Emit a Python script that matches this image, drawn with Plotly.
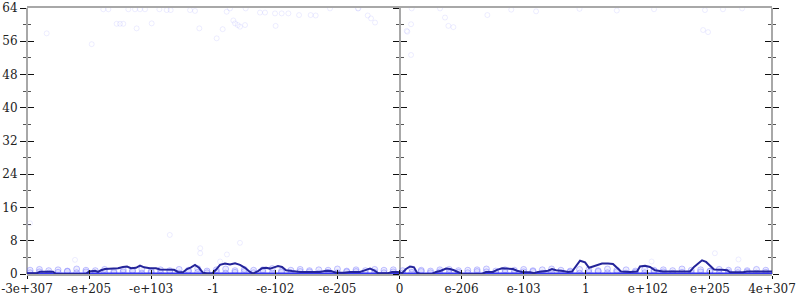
import plotly.graph_objects as go

tick_labels = ["-3e+307", "-e+205", "-e+103", "-1", "-e-102", "-e-205", "0",
               "e-206", "e-103", "1", "e+102", "e+205", "4e+307"]
tick_pos = list(range(13))

line_x = [0, 0.161, 0.209, 0.419, 0.467, 0.950, 0.999, 1.095, 1.144, 1.192, 1.256, 1.369,
          1.466, 1.546, 1.611, 1.675, 1.756, 1.820, 1.885, 1.981, 2.078, 2.142, 2.271, 2.368,
          2.432, 2.513, 2.577, 2.642, 2.706, 2.771, 2.835, 2.899, 2.980, 3.044, 3.109, 3.189,
          3.270, 3.351, 3.431, 3.512, 3.592, 3.640, 3.721, 3.785, 3.850, 3.914, 3.979, 4.043,
          4.108, 4.172, 4.269, 4.398, 4.559, 4.720, 4.816, 4.897, 4.977, 5.106, 5.203, 5.364,
          5.461, 5.525, 5.590, 5.654, 5.815, 5.880, 5.976, 6.041, 6.105, 6.169, 6.234, 6.282,
          6.331, 6.524, 6.588, 6.669, 6.749, 6.814, 6.878, 6.943, 7.007, 7.329, 7.394, 7.506,
          7.571, 7.652, 7.748, 7.829, 7.893, 7.974, 8.103, 8.167, 8.231, 8.312, 8.393, 8.457,
          8.521, 8.634, 8.715, 8.779, 8.843, 8.908, 8.989, 9.053, 9.117, 9.182, 9.262, 9.359,
          9.439, 9.504, 9.568, 9.713, 9.826, 9.874, 9.955, 10.035, 10.116, 10.245, 10.438,
          10.680, 10.744, 10.809, 10.873, 10.938, 11.003, 11.067, 11.196, 11.276, 11.325,
          11.534, 11.598, 11.759, 12]
line_y = [0.2, 0.2, 0.55, 0.55, 0, 0, 0.6, 0.75, 0.5, 0.9, 1.2, 1.3,
          1.4, 1.7, 1.8, 1.4, 1.5, 2.0, 1.6, 1.4, 1.4, 1.1, 1.0, 1.0,
          0.5, 0.4, 1.2, 1.6, 2.2, 1.5, 0.3, 0.1, 0.1, 1.0, 2.2, 2.5,
          2.3, 2.6, 2.2, 1.5, 0.5, 0.1, 0.7, 1.4, 1.5, 1.3, 1.6, 1.9,
          1.7, 0.9, 0.7, 0.5, 0.5, 0.5, 0.8, 0.7, 0.3, 0.3, 0.5, 0.5,
          1.0, 1.3, 0.9, 0.2, 0.2, 0.5, 0.5, 0.2, 1.2, 1.8, 1.6, 0.3,
          0, 0, 0.5, 0.8, 1.3, 1.2, 0.9, 0.4, 0, 0, 0.5, 0.5,
          1.0, 1.4, 1.3, 1.2, 0.8, 0.5, 0.4, 0.2, 0.5, 0.6, 0.8, 1.2,
          0.9, 0.7, 0.5, 0.6, 2.0, 3.2, 2.8, 1.5, 1.8, 2.2, 2.5, 2.5,
          2.4, 1.5, 0.6, 0.5, 0.6, 1.8, 2.0, 1.7, 0.9, 0.6, 0.6,
          0.6, 1.7, 2.6, 3.3, 2.9, 2.0, 1.1, 1.0, 0.9, 0.4,
          0.4, 0.6, 0.6, 0.6]

# scattered sample points (faint)
pts_x = [1.229, 1.310, 1.632, 1.740, 1.820, 1.901, 2.132, 2.250, 2.314, 2.626, 2.706, 3.216,
         3.270, 3.522, 3.753, 3.834, 3.995, 4.102, 4.210, 4.382, 4.569, 4.650, 4.881, 5.337,
         5.488, 5.541, 5.606, 6.196, 6.186, 6.116, 6.653, 6.733, 6.787, 6.868, 7.415, 1.444,
         1.498, 1.551, 1.766, 2.008, 2.776, 3.055, 3.152, 3.324, 3.351, 3.394, 3.431, 3.512,
         4.005, 0.317, 1.042, 5.330, 6.126, 6.186, 10.92, 11.21, 11.52, 10.89, 10.97, 7.8,
         8.2, 8.9, 9.5, 10.1, 0.048, 2.30, 0.773, 2.79, 2.79, 3.43, 3.22, 3.11, 11.08, 11.46,
         10.06]
pts_y = [63.7, 63.7, 63.7, 63.7, 63.7, 63.7, 63.7, 63.5, 63.5, 63.5, 63.3, 63.1,
         63.9, 63.9, 62.9, 62.9, 62.7, 62.7, 62.7, 62.3, 62.3, 62.2, 63.9, 63.9,
         62.2, 61.5, 60.5, 63.9, 60.1, 58.5, 63.9, 61.7, 59.7, 59.4, 62.3, 60.2,
         60.2, 60.2, 59.1, 60.3, 59.1, 56.7, 58.9, 61.0, 60.3, 59.9, 59.5, 59.9,
         59.7, 57.9, 55.3, 63.9, 58.3, 52.7, 63.5, 63.7, 63.9, 58.7, 58.2, 63.6,
         63.2, 63.8, 63.4, 63.7, 12.2, 9.4, 3.4, 6.2, 5.0, 7.5, 4.7, 3.0, 5.0, 3.5,
         3.0]

band_x = [0.05, 0.2, 0.35, 0.5, 0.65, 0.8, 0.95, 1.1, 1.25, 1.4, 1.55, 1.7, 1.85, 2.0, 2.15,
          2.3, 2.45, 2.6, 2.75, 2.9, 3.05, 3.2, 3.35, 3.5, 3.65, 3.8, 3.95, 4.1, 4.25, 4.4,
          4.55, 4.7, 4.85, 5.0, 5.15, 5.3, 5.45, 5.6, 5.75, 5.9, 6.05, 6.2, 6.35, 6.5, 6.65,
          6.8, 6.95, 7.1, 7.25, 7.4, 7.55, 7.7, 7.85, 8.0, 8.15, 8.3, 8.45, 8.6, 8.75, 8.9,
          9.05, 9.2, 9.35, 9.5, 9.65, 9.8, 9.95, 10.1, 10.25, 10.4, 10.55, 10.7, 10.85, 11.0,
          11.15, 11.3, 11.45, 11.6, 11.75, 11.9]
band_y1 = [0.9, 1.1, 0.8, 1.0, 0.7, 1.2, 0.9, 0.8, 1.1, 0.6, 1.0, 0.9, 1.2, 0.7, 1.0,
           0.8, 1.1, 0.9, 1.3, 0.7, 1.0, 1.2, 0.8, 1.1, 0.9, 1.0, 1.3, 0.7, 0.9, 1.1,
           0.8, 1.0, 0.9, 1.2, 0.7, 1.0, 0.8, 1.1, 0.9, 1.0, 0.8, 1.2, 0.9, 0.7, 1.0,
           1.1, 0.8, 0.9, 1.0, 1.2, 0.7, 1.0, 0.9, 1.1, 0.8, 1.0, 1.2, 0.9, 0.7, 1.1,
           1.0, 0.8, 1.2, 0.9, 1.0, 0.7, 1.1, 0.9, 1.0, 0.8, 1.2, 0.9, 1.0, 0.7, 1.1,
           0.9, 1.0, 0.8, 1.1, 0.9]
band_y2 = [0.3, 0.5, 0.2, 0.4, 0.6, 0.3, 0.5, 0.2, 0.4, 0.3, 0.5, 0.6, 0.2, 0.4, 0.3,
           0.5, 0.2, 0.6, 0.4, 0.3, 0.5, 0.2, 0.4, 0.6, 0.3, 0.5, 0.2, 0.4, 0.3, 0.6,
           0.5, 0.2, 0.4, 0.3, 0.5, 0.6, 0.2, 0.4, 0.3, 0.5, 0.2, 0.4, 0.6, 0.3, 0.5,
           0.2, 0.4, 0.3, 0.6, 0.5, 0.2, 0.4, 0.3, 0.5, 0.6, 0.2, 0.4, 0.3, 0.5, 0.2,
           0.4, 0.6, 0.3, 0.5, 0.2, 0.4, 0.3, 0.6, 0.5, 0.2, 0.4, 0.3, 0.5, 0.6, 0.2,
           0.4, 0.3, 0.5, 0.2, 0.4]

zero_x = [0, 12]
zero_y = [0, 0]

Y_MAX = 64
fig = go.Figure()

band_col = "rgba(110,110,255,0.40)"
pts_col = "rgba(140,140,255,0.16)"
for by in (band_y1, band_y2):
    fig.add_trace(go.Scatter(x=band_x, y=by, mode="markers",
                             marker=dict(symbol="circle", size=6, color="rgba(150,150,255,0.16)",
                                         line=dict(width=1, color=band_col)),
                             showlegend=False, hoverinfo="skip"))
fig.add_trace(go.Scatter(x=pts_x, y=pts_y, mode="markers",
                         marker=dict(symbol="circle-open", size=5, color=pts_col,
                                     line=dict(width=1)),
                         showlegend=False, hoverinfo="skip"))
fig.add_trace(go.Scatter(x=zero_x, y=zero_y, mode="lines", cliponaxis=False,
                         line=dict(color="#3333f0", width=3), showlegend=False))
fig.add_trace(go.Scatter(x=line_x, y=line_y, mode="lines", cliponaxis=False,
                         line=dict(color="#24249a", width=2), showlegend=False))

# invisible anchor traces so that every extra axis is drawn
for xa, ya in [("x2", "y"), ("x", "y2"), ("x", "y3"), ("x", "y4"), ("x", "y5"), ("x", "y6")]:
    fig.add_trace(go.Scatter(x=zero_x, y=zero_y, mode="lines", xaxis=xa, yaxis=ya,
                             line=dict(width=0, color="rgba(0,0,0,0)"),
                             showlegend=False, hoverinfo="skip"))

axis_font = dict(family="DejaVu Serif", size=12, color="#222")
minor_out = dict(dtick=4, ticklen=3, tickcolor="#555", ticks="outside", showgrid=False)
minor_in = dict(dtick=4, ticklen=3, tickcolor="#555", ticks="inside", showgrid=False)

def yax(position, side, ticks, labels, minor):
    d = dict(range=[0, Y_MAX], dtick=8, tick0=0, ticks=ticks, ticklen=6, tickwidth=1.2,
             tickcolor="#111", showticklabels=labels, tickfont=axis_font,
             showgrid=False, zeroline=False, showline=True, linecolor="#a8a8a8",
             linewidth=2, anchor="free", position=position, side=side,
             minor=minor, fixedrange=True, layer="below traces")
    if not labels:
        d["overlaying"] = "y"
    return d

fig.update_layout(
    width=800, height=300, margin=dict(l=27, r=28, t=8, b=26, autoexpand=False),
    plot_bgcolor="white", paper_bgcolor="white",
    xaxis=dict(range=[0, 12], tickvals=tick_pos, ticktext=tick_labels, ticks="outside",
               ticklen=3, tickcolor="#111", tickfont=axis_font, showgrid=False,
               zeroline=False, showline=True, linecolor="#a8a8a8", linewidth=2,
               mirror=True, anchor="y", fixedrange=True, domain=[0, 1],
               layer="below traces"),
    xaxis2=dict(range=[0, 12], tickvals=tick_pos, ticks="inside", ticklen=4,
                tickcolor="#111", showticklabels=False, showgrid=False, zeroline=False,
                showline=False, overlaying="x", anchor="y", side="bottom", fixedrange=True),
    yaxis=yax(0, "left", "outside", True, minor_out),
    yaxis2=yax(0, "left", "inside", False, minor_in),
    yaxis3=yax(0.5, "left", "outside", False, minor_out),
    yaxis4=yax(0.5, "left", "inside", False, minor_in),
    yaxis5=yax(1, "right", "outside", False, minor_out),
    yaxis6=yax(1, "right", "inside", False, minor_in),
)

fig.write_html("out.html", post_script="document.body.style.margin='0';",
               config={"displayModeBar": False})
